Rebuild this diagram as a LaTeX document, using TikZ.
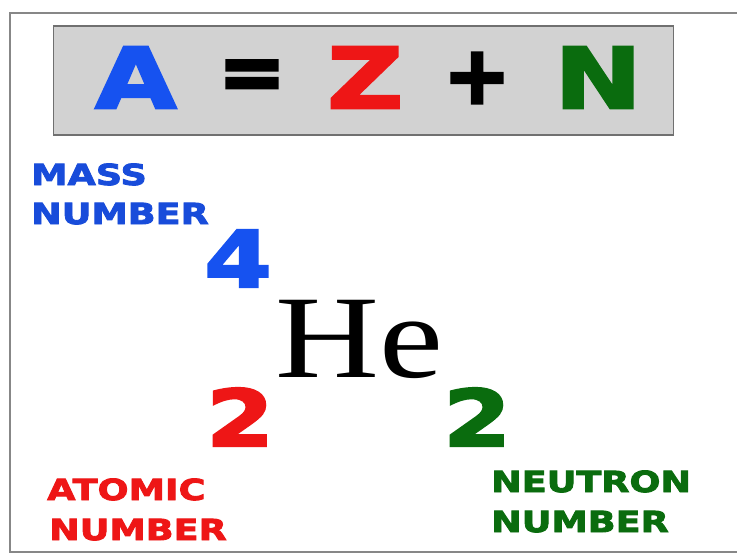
\documentclass[tikz,border=0pt]{standalone}
\usepackage{fontspec}
\newfontfamily\heavy[FakeStretch=1.25,FakeBold=3]{DejaVu Sans Bold}
\newfontfamily\heavyop[FakeStretch=1.0,FakeBold=4]{DejaVu Sans Bold}
\newfontfamily\heavylab[FakeStretch=1.26,FakeBold=3]{DejaVu Sans Bold}
\newfontfamily\serifHe[FakeStretch=1.22]{Liberation Serif}
\definecolor{cblue}{RGB}{22,82,240}
\definecolor{lblue}{RGB}{24,76,218}
\definecolor{cred}{RGB}{238,22,22}
\definecolor{cgreen}{RGB}{10,108,14}
\definecolor{boxfill}{RGB}{210,210,210}
\definecolor{boxline}{RGB}{112,112,112}
\definecolor{frameline}{RGB}{135,135,135}
\begin{document}
\begin{tikzpicture}[x=1pt,y=-1pt,
  big/.style={inner sep=0pt,anchor=base west,font=\heavy\fontsize{84}{84}\selectfont},
  op/.style={inner sep=0pt,anchor=center,font=\heavyop\fontsize{80}{80}\selectfont},
  digit/.style={inner sep=0pt,anchor=base west,font=\heavy\fontsize{78}{78}\selectfont},
  lab/.style={inner sep=0pt,anchor=base west,font=\heavylab\fontsize{29}{29}\selectfont}]
\useasboundingbox (0,0) rectangle (737,555);
\fill[white] (0,0) rectangle (737,555);
% outer frame
\draw[frameline,line width=1.5pt] (740,13) -- (10,13) -- (10,552) -- (740,552);
% equation box
\node[draw=boxline,fill=boxfill,line width=1.8pt,minimum width=620pt,minimum height=109pt,inner sep=0pt] (eqbox) at (363.5,80.5) {};
\node[big,text=cblue] (A) at (95,108) {A};
\node[op,text=black] (eq) at (252,80) {=};
\node[big,text=cred] (Z) at (327,108) {Z};
\node[op,text=black] (plus) at (477,78) {+};
\node[big,text=cgreen] (N) at (554,108) {N};
% labels
\node[lab,text=lblue] (mass1) at (31,185) {MASS};
\node[lab,text=lblue] (mass2) at (31,224) {NUMBER};
\node[lab,text=cred] (at1) at (47,500) {ATOMIC};
\node[lab,text=cred] (at2) at (49,540) {NUMBER};
\node[lab,text=cgreen] (neu1) at (491,492) {NEUTRON};
\node[lab,text=cgreen] (neu2) at (491,532) {NUMBER};
% symbol
\node[digit,text=cblue] (four) at (204,287) {4};
\node[inner sep=0pt,anchor=base west,font=\serifHe\fontsize{118}{118}\selectfont] (He) at (275,377) {He};
\node[digit,text=cred] (two1) at (206,446) {2};
\node[digit,text=cgreen] (two2) at (443,446) {2};
\end{tikzpicture}
\end{document}
